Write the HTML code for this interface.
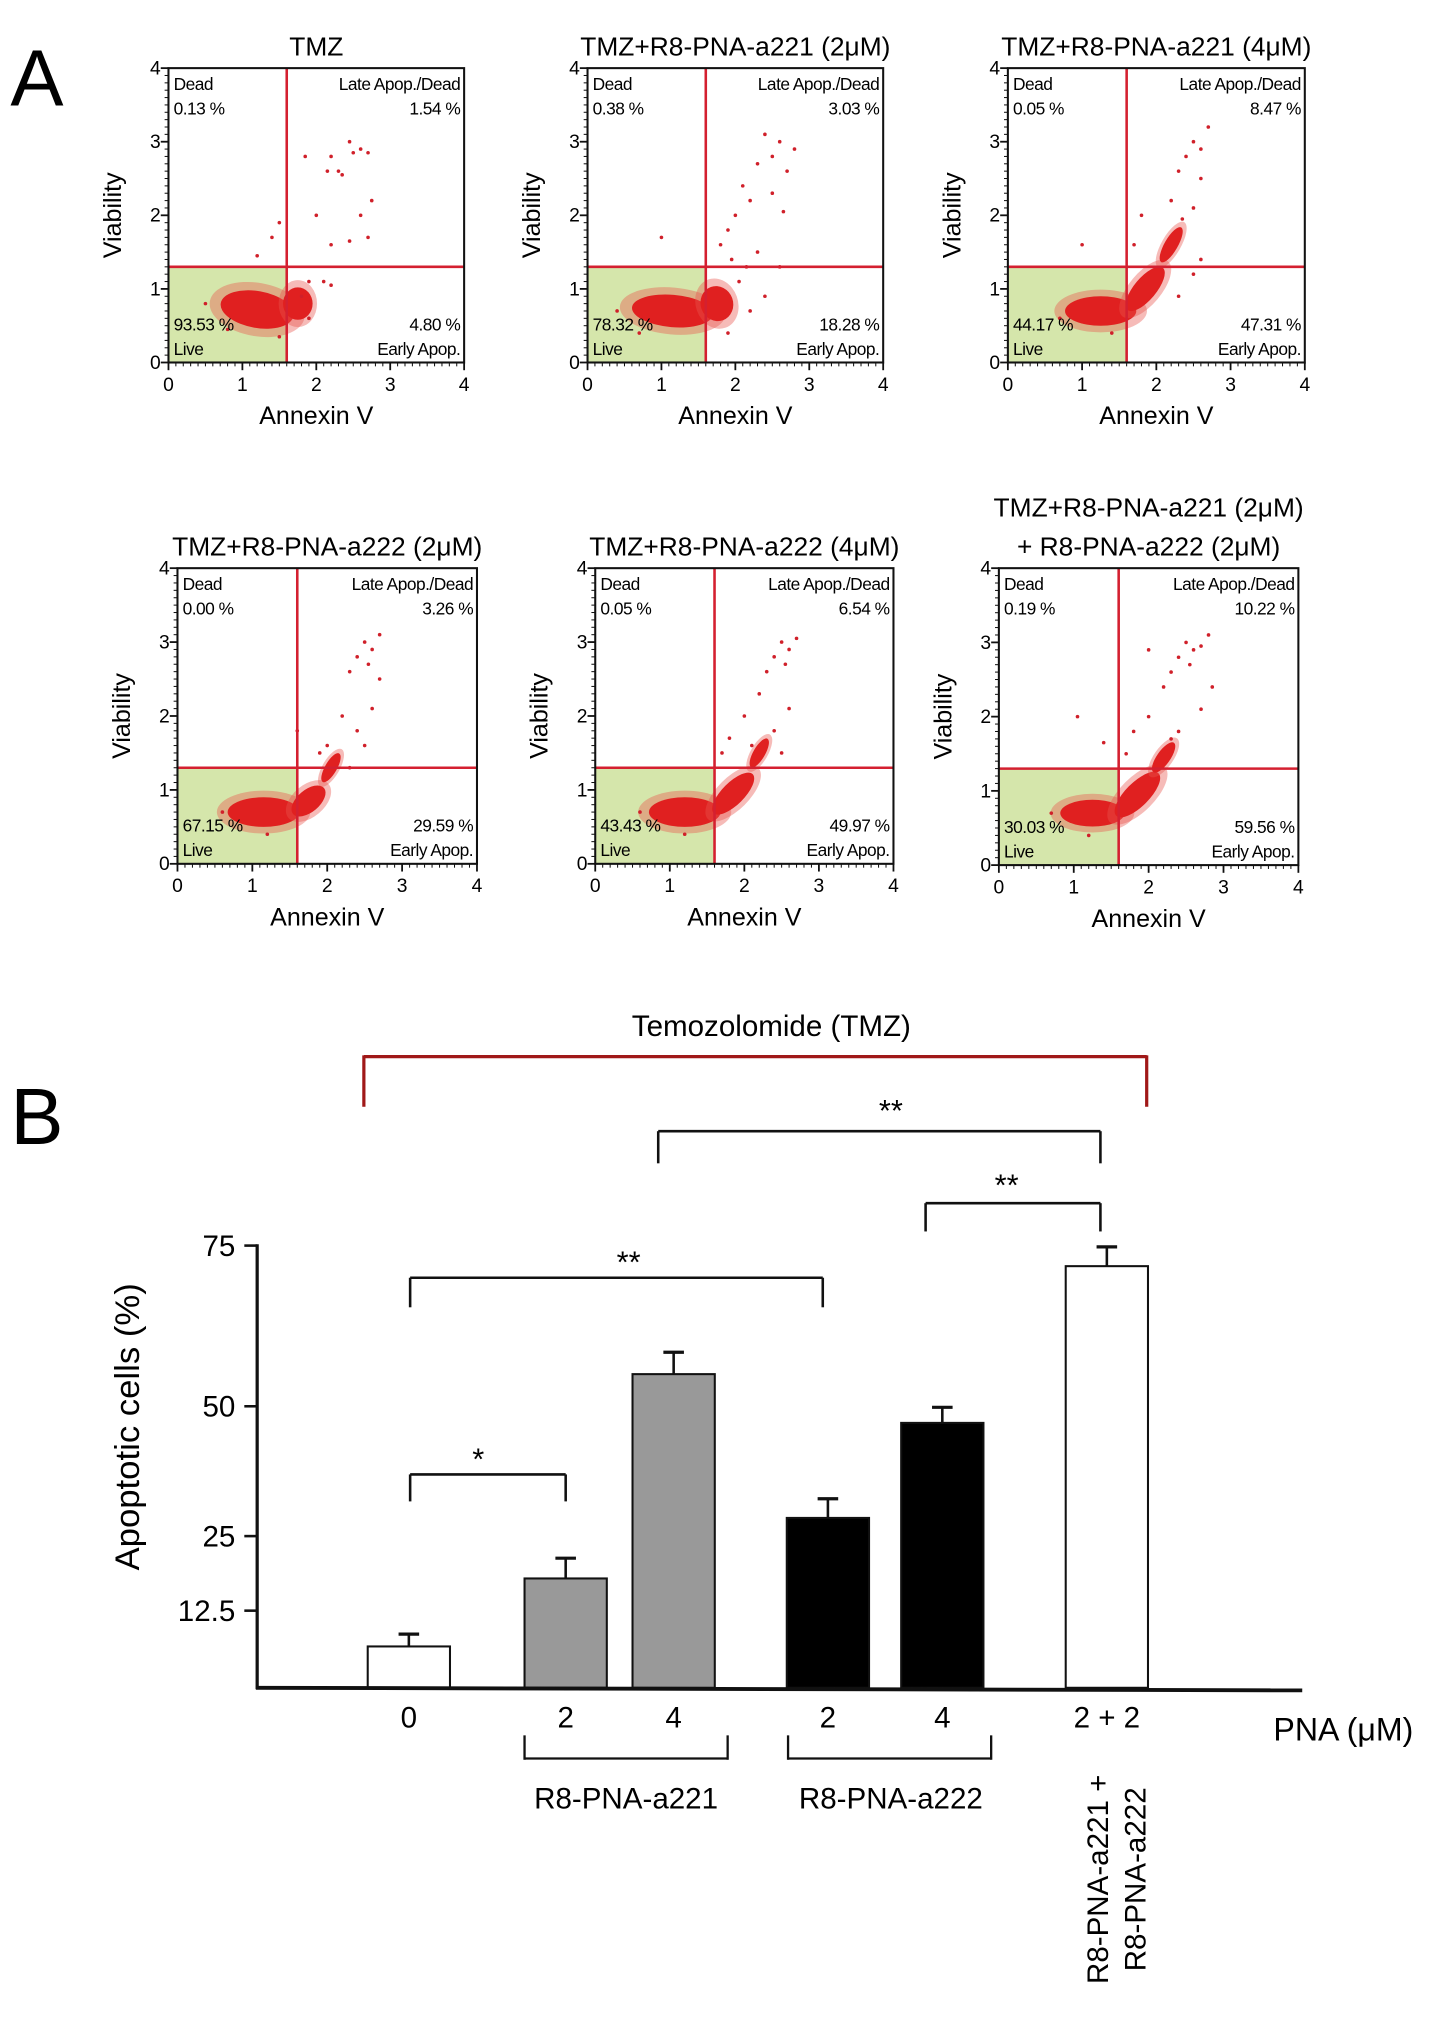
<!DOCTYPE html>
<html><head><meta charset="utf-8"><style>
html,body{margin:0;padding:0;background:#fff}
svg{display:block}
text{font-family:"Liberation Sans",sans-serif}
</style></head><body>
<svg id="fig" width="1454" height="2031" viewBox="0 0 1131 1580" xmlns="http://www.w3.org/2000/svg">
<text x="8" y="82" font-size="62">A</text>
<text x="8" y="890" font-size="62">B</text>
<g id="flow"></g>
<g id="bars"></g>
</svg>
<script>
const NS="http://www.w3.org/2000/svg";
function mk(parent,tag,attrs,txt){const e=document.createElementNS(NS,tag);for(const k in attrs)e.setAttribute(k,attrs[k]);if(txt!==undefined)e.textContent=txt;parent.appendChild(e);return e;}

// ---------- Panel A data ----------
const plotTitles=[["TMZ"],["TMZ+R8-PNA-a221 (2\u03bcM)"],["TMZ+R8-PNA-a221 (4\u03bcM)"],["TMZ+R8-PNA-a222 (2\u03bcM)"],["TMZ+R8-PNA-a222 (4\u03bcM)"],["TMZ+R8-PNA-a221 (2\u03bcM)","+ R8-PNA-a222 (2\u03bcM)"]];
const deadPct=["0.13 %","0.38 %","0.05 %","0.00 %","0.05 %","0.19 %"];
const latePct=["1.54 %","3.03 %","8.47 %","3.26 %","6.54 %","10.22 %"];
const livePct=["93.53 %","78.32 %","44.17 %","67.15 %","43.43 %","30.03 %"];
const earlyPct=["4.80 %","18.28 %","47.31 %","29.59 %","49.97 %","59.56 %"];
// clusters: [cx, cy, rx, ry, rotation deg] in data units
const clusters=[
 [[1.2,0.72,0.5,0.25,-10],[1.75,0.8,0.2,0.22,0]],
 [[1.15,0.7,0.55,0.22,-5],[1.75,0.8,0.22,0.24,20]],
 [[1.25,0.7,0.48,0.2,0],[1.85,1.0,0.37,0.15,50],[2.2,1.6,0.27,0.09,60]],
 [[1.15,0.7,0.48,0.2,0],[1.75,0.85,0.27,0.15,40],[2.05,1.3,0.22,0.08,60]],
 [[1.2,0.7,0.48,0.2,0],[1.85,0.95,0.37,0.15,45],[2.2,1.5,0.22,0.08,60]],
 [[1.25,0.7,0.43,0.18,0],[1.85,0.95,0.4,0.16,45],[2.2,1.45,0.24,0.09,55]]
];
// sparse points [x,y]
const sparse=[
 [[2.2,2.8],[2.3,2.6],[2.5,2.85],[2.6,2.9],[2.45,3.0],[2.7,2.85],[2.15,2.6],[2.35,2.55],[2.0,2.0],[2.45,1.65],[2.6,2.0],[1.85,2.8],[1.5,1.9],[1.4,1.7],[2.2,1.6],[2.7,1.7],[2.75,2.2],[1.2,1.45],[1.9,1.1],[2.1,1.1],[1.8,0.9],[2.2,1.05],[0.5,0.8],[0.8,0.45],[1.5,0.35],[1.9,0.6]],
 [[2.3,2.7],[2.5,2.8],[2.6,3.0],[2.4,3.1],[2.1,2.4],[2.2,2.2],[2.0,2.0],[1.9,1.8],[2.5,2.3],[2.7,2.6],[2.8,2.9],[1.8,1.6],[2.3,1.5],[2.6,1.3],[2.05,1.1],[2.4,0.9],[2.2,0.7],[1.0,1.7],[2.65,2.05],[1.95,1.4],[2.15,1.3],[0.4,0.7],[1.9,0.4],[0.7,0.4]],
 [[2.4,2.8],[2.5,3.0],[2.6,2.9],[2.7,3.2],[2.3,2.6],[2.2,2.2],[2.6,2.5],[2.35,1.95],[2.5,2.1],[1.8,2.0],[1.7,1.6],[1.0,1.6],[2.6,1.4],[2.5,1.2],[2.3,0.9],[0.7,0.6],[1.4,0.4]],
 [[2.4,2.8],[2.5,3.0],[2.6,2.9],[2.7,3.1],[2.3,2.6],[2.55,2.7],[2.2,2.0],[2.4,1.8],[2.6,2.1],[2.7,2.5],[2.0,1.6],[1.9,1.5],[2.3,1.3],[1.6,1.8],[2.5,1.6],[0.6,0.7],[1.2,0.4]],
 [[2.4,2.8],[2.5,3.0],[2.6,2.9],[2.7,3.05],[2.3,2.6],[2.55,2.7],[2.2,2.3],[2.0,2.0],[2.4,1.8],[2.6,2.1],[1.8,1.7],[1.7,1.5],[2.5,1.5],[2.1,1.6],[0.6,0.7],[1.2,0.4]],
 [[2.4,2.8],[2.5,3.0],[2.6,2.9],[2.7,2.95],[2.3,2.6],[2.55,2.7],[2.2,2.4],[2.0,2.9],[2.8,3.1],[2.85,2.4],[2.0,2.0],[2.4,1.8],[2.7,2.1],[1.8,1.8],[1.7,1.5],[1.05,2.0],[1.4,1.65],[2.3,1.7],[0.7,0.7],[1.2,0.4]]
];
const xTicks=[0,1,2,3,4], yTicks=[0,1,2,3,4];
const gateX=1.6, gateY=1.3;
// plot frames (layout, px)
const frames=[[131,53,230,229],[457,53,230,229],[784,53,231,229],[138,442,233,230],[463,442,232,230],[777,442,233,231]];

const flow=document.getElementById('flow');
frames.forEach((f,i)=>{
  const [x0,y0,w,h]=f;
  const sx=v=>x0+v/4*w, sy=v=>y0+h-v/4*h;
  const g=mk(flow,'g',{});
  
  
  const lines=plotTitles[i];
  lines.forEach((t,k)=>{
    const ty=y0-(lines.length-k)*30+20;
    const tt=mk(g,'text',{x:x0+w/2,y:ty,'font-size':20.5,'text-anchor':'middle'},t);
    
    
  });
  const live=mk(g,'rect',{x:sx(0),y:sy(gateY),width:sx(gateX)-sx(0),height:sy(0)-sy(gateY),fill:'#d5e6ab'});
  
  
  clusters[i].forEach(c=>{
    const cx=sx(c[0]),cy=sy(c[1]),rx=c[2]/4*w,ry=c[3]/4*h;
    const hal=mk(g,'ellipse',{cx:cx,cy:cy,rx:rx*1.3,ry:ry*1.45,fill:'#e8554e',opacity:0.4,transform:`rotate(${-c[4]} ${cx} ${cy})`});
    
    
    const el=mk(g,'ellipse',{cx:cx,cy:cy,rx:rx,ry:ry,fill:'#e02020',transform:`rotate(${-c[4]} ${cx} ${cy})`});
    
    
  });
  sparse[i].forEach(p=>{
    const d=mk(g,'circle',{cx:sx(p[0]),cy:sy(p[1]),r:1.4,fill:'#d0202a'});
    
    
  });
  const vl=mk(g,'line',{x1:sx(gateX),x2:sx(gateX),y1:y0,y2:y0+h,stroke:'#d42030','stroke-width':2});
  
  
  const hl=mk(g,'line',{x1:x0,x2:x0+w,y1:sy(gateY),y2:sy(gateY),stroke:'#d42030','stroke-width':2});
  
  
  const fr=mk(g,'rect',{x:x0,y:y0,width:w,height:h,fill:'none',stroke:'#111','stroke-width':1.6});
  
  
  xTicks.forEach(t=>{
    mk(g,'line',{x1:sx(t),x2:sx(t),y1:y0+h,y2:y0+h+6,stroke:'#111','stroke-width':1.4});
    const tl=mk(g,'text',{x:sx(t),y:y0+h+22,'font-size':15,'text-anchor':'middle'},t);
    
    
  });
  for(let m=0;m<4;m+=0.1){mk(g,'line',{x1:sx(m),x2:sx(m),y1:y0+h,y2:y0+h+3,stroke:'#111','stroke-width':0.8});mk(g,'line',{x1:x0,x2:x0-3,y1:sy(m),y2:sy(m),stroke:'#111','stroke-width':0.8});}
  yTicks.forEach(t=>{
    mk(g,'line',{x1:x0,x2:x0-6,y1:sy(t),y2:sy(t),stroke:'#111','stroke-width':1.4});
    const tl=mk(g,'text',{x:x0-6,y:sy(t)+5,'font-size':15,'text-anchor':'end'},t);
    
    
  });
  const xl=mk(g,'text',{x:x0+w/2,y:y0+h+48,'font-size':19.5,'text-anchor':'middle'},'Annexin V');
  
  
  const yl=mk(g,'text',{x:0,y:0,'font-size':19.5,'text-anchor':'middle',transform:`translate(${x0-37},${y0+h/2}) rotate(-90)`},'Viability');
  
  
  const q=[[x0+4,y0+17,'start','Dead'],[x0+4,y0+36,'start',deadPct[i]],[x0+w-3,y0+17,'end','Late Apop./Dead'],[x0+w-3,y0+36,'end',latePct[i]],
           [x0+4,y0+h-25,'start',livePct[i]],[x0+4,y0+h-6,'start','Live'],[x0+w-3,y0+h-25,'end',earlyPct[i]],[x0+w-3,y0+h-6,'end','Early Apop.']];
  q.forEach(a=>{const t=mk(g,'text',{x:a[0],y:a[1],'font-size':13.5,'text-anchor':a[2],'letter-spacing':'-0.4'},a[3]);
    
    });
});

// ---------- Panel B data ----------
const barCats=["0","2","4","2","4","2 + 2"];
const barValues=[6.7,17.9,55,28.5,46.8,71.8];
const barErrors=[2.0,3.4,3.4,3.7,3.0,3.0];
const barFills=["#fff","#999","#999","#000","#000","#fff"];
const yTickVals=[12.5,25,50,75];
const yTickLabels=["12.5","25","50","75"];
const axVals=[0,12.5,25,50,75], axPix=[1313,1253,1195,1094,969];
function yB(v){for(let k=0;k<axVals.length-1;k++){if(v<=axVals[k+1]||k===axVals.length-2){const t=(v-axVals[k])/(axVals[k+1]-axVals[k]);return axPix[k]+t*(axPix[k+1]-axPix[k]);}}}
const barX=[286,408,492,612,701,829], barW=64;
const B=document.getElementById('bars');
function line(x1,y1,x2,y2,sw,col,name){const l=mk(B,'line',{x1,y1,x2,y2,stroke:col||'#111','stroke-width':sw||2});return l;}
function txt(x,y,s,t,name,extra){const e=mk(B,'text',Object.assign({x,y,'font-size':s,'text-anchor':'middle'},extra||{}),t);return e;}
barValues.forEach((v,i)=>{
  const top=yB(v),eTop=yB(v+barErrors[i]),cx=barX[i]+barW/2;
  line(cx,top,cx,eTop,2,'#111','error-bar');
  line(cx-8,eTop,cx+8,eTop,2.5,'#111','error-cap');
  const r=mk(B,'rect',{x:barX[i],y:top,width:barW,height:1313-top,fill:barFills[i],stroke:'#111','stroke-width':1.6});
  
  
  txt(cx,1344,23,barCats[i],'x-tick-label');
});
line(200,968,200,1314,2.5,'#111','y-axis');
line(199,1313,1013,1315,3,'#111','x-axis');
yTickVals.forEach((v,i)=>{line(190,yB(v),200,yB(v),2,'#111','y-tick');txt(183,yB(v)+8,23,yTickLabels[i],'y-tick-label',{'text-anchor':'end'});});
txt(0,0,27,'Apoptotic cells (%)','y-axis-title',{transform:'translate(108,1110) rotate(-90)'});
txt(1045,1354,25,'PNA (\u03bcM)','x-axis-unit');
[[408,566,487,'R8-PNA-a221'],[613,771,693,'R8-PNA-a222']].forEach(b=>{
  line(b[0],1368,b[1],1368,1.8,'#111','group-bracket');line(b[0],1350,b[0],1369,1.8,'#111','group-bracket');line(b[1],1350,b[1],1369,1.8,'#111','group-bracket');
  txt(b[2],1407,23,b[3],'group-label');});
txt(0,0,23,'R8-PNA-a221 +','combo-label',{transform:'translate(862,1462) rotate(-90)'});
txt(0,0,23,'R8-PNA-a222','combo-label',{transform:'translate(891,1462) rotate(-90)'});
txt(600,806,23,'Temozolomide (TMZ)','tmz-title');
line(283,822,892,822,2.5,'#a01818','tmz-bracket');line(283,821,283,861,2.5,'#a01818','tmz-bracket');line(892,821,892,861,2.5,'#a01818','tmz-bracket');
[[512,856,880,905,'**',693,872],[720,856,936,958,'**',783,930],[319,640,994,1017,'**',489,990],[319,440,1147,1168,'*',372,1143]].forEach(s=>{
  line(s[0],s[2],s[1],s[2],2,'#111','significance-bracket');line(s[0],s[2],s[0],s[3],2,'#111','significance-bracket');line(s[1],s[2],s[1],s[3],2,'#111','significance-bracket');
  txt(s[5],s[6],24,s[4],'significance-marker');});
</script>
</body></html>
